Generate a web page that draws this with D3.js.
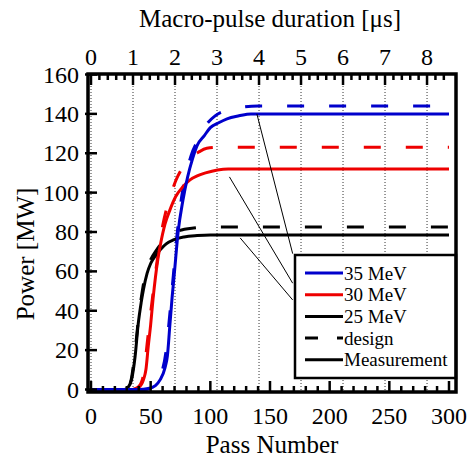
<!DOCTYPE html>
<html><head><meta charset="utf-8">
<script src="https://cdn.jsdelivr.net/npm/d3@7"></script>
<style>body{margin:0;background:#fff}svg{display:block}</style>
</head><body><svg id="c" width="474" height="460" font-family="'Liberation Serif', 'DejaVu Serif', serif"></svg>
<script>
// ---- data ----
const meas35 = [[0,0],[40,0],[48,0.5],[54,2],[58,5],[62,11],[64,17],[66,32],[68,47],[70,60],[73,80],[77,96],[81,108],[85,117],[89,124],[95,129],[100,133],[107,135.5],[114,137.5],[124,139],[134,140],[300,140]];
const design35 = [[0,0],[45,0],[54,2],[59,8],[63,20],[66,38],[69,58],[72,78],[76,98],[80,110],[84,119],[89,126],[96,134],[104,139],[115,142],[127,143.5],[140,144],[300,144]];
const meas30 = [[0,0],[35,0],[40,1],[44,5],[46,10],[48,22],[50,33],[52,46],[54,57],[56,66],[58,73],[62,84],[66,91],[71,98],[77,103],[83,106.5],[89,108.5],[96,110],[106,111.5],[115,112],[300,112]];
const design30 = [[0,0],[34,0],[39,1],[43,5],[45,12],[47,23],[50,39],[52,49],[54,59],[57,72],[60,83],[63,91],[67,99],[71,106],[76,112],[83,117.5],[90,120.5],[97,122.5],[107,123],[300,123]];
const meas25 = [[0,0],[28,0],[31,1],[34,5],[37,17],[39.5,33],[42,44],[44,51],[47,59],[50,64],[54,68],[58,71],[63,74],[69,76],[78,77.5],[89,78.2],[100,78.5],[300,78.5]];
const design25 = [[0,0],[28,0],[31,1],[34,6],[37,20],[40,37],[43,50],[46,60],[50,66],[55,71],[60,75],[66,78.5],[73,80.5],[86,82],[100,82.5],[300,82.5]];
const yTicks = [0,20,40,60,80,100,120,140,160];
const xTicks = [0,50,100,150,200,250,300];
const usTicks = [0,1,2,3,4,5,6,7,8];
const usPerPass = 0.02841;
const legendLabels = ["35 MeV","30 MeV","25 MeV","design","Measurement"];
const legendColors = ["#0000cc","#ee0000","#000000","#000000","#000000"];
const legendDashed = [false,false,false,true,false];
// annotation leader lines in data coords [from, to]
const leaders = [[[139,140],[169,69]],[[116,108],[169,54]],[[125,77],[169,45.5]]];

// ---- layout ----
const svg = d3.select("#c");
const FONT = "'Liberation Serif', 'DejaVu Serif', serif";
const L=88, R=456, T=74, B=392;
const x = d3.scaleLinear().domain([0,300]).range([91,449]);
const xu = d3.scaleLinear().domain([0,300*usPerPass]).range([91,449]);
const y = d3.scaleLinear().domain([0,160]).range([389.5,74.5]);

// gridlines (dotted, at µs ticks)
svg.append("g").selectAll("line").data(usTicks).join("line")
  .attr("x1",d=>xu(d)).attr("x2",d=>xu(d)).attr("y1",T).attr("y2",B)
  .attr("stroke","#333").attr("stroke-width",1).attr("stroke-dasharray","1,2");

svg.append("clipPath").attr("id","clip").append("rect").attr("x",L).attr("y",T-4).attr("width",R-L).attr("height",B-T+4);
const g = svg.append("g").attr("clip-path","url(#clip)");
const line = d3.line().x(d=>x(d[0])).y(d=>y(d[1])).curve(d3.curveMonotoneX);
const series = [
  {d:design25,c:"#000000",dash:true},{d:design30,c:"#ee0000",dash:true},{d:design35,c:"#0000cc",dash:true},
  {d:meas25,c:"#000000",dash:false},{d:meas30,c:"#ee0000",dash:false},{d:meas35,c:"#0000cc",dash:false}
];
g.selectAll("path.s").data(series).join("path").attr("class","s")
  .attr("d",s=>line(s.d)).attr("fill","none").attr("stroke",s=>s.c)
  .attr("stroke-width",3).attr("stroke-dasharray",s=>s.dash?"17,25":null);

// leader lines
svg.append("g").selectAll("line").data(leaders).join("line")
  .attr("x1",d=>x(d[0][0])).attr("y1",d=>y(d[0][1])).attr("x2",d=>x(d[1][0])).attr("y2",d=>y(d[1][1]))
  .attr("stroke","#000").attr("stroke-width",1);

// legend
const lg = svg.append("g");
lg.append("rect").attr("x",295).attr("y",255).attr("width",R-295).attr("height",123)
  .attr("fill","#fff").attr("stroke","#000").attr("stroke-width",2.5);
legendLabels.forEach((t,i)=>{
  const yy = 273 + i*21.7;
  lg.append("line").attr("x1",305).attr("x2",343).attr("y1",yy).attr("y2",yy)
    .attr("stroke",legendColors[i]).attr("stroke-width",3).attr("stroke-dasharray",legendDashed[i]?"13,19":null);
  lg.append("text").attr("x",344).attr("y",yy+6.5).attr("font-size",19).attr("font-family",FONT).text(t);
});

// frame
svg.append("rect").attr("x",L).attr("y",T).attr("width",R-L).attr("height",B-T)
  .attr("fill","none").attr("stroke","#000").attr("stroke-width",3.5);

// bottom ticks
const minorX = d3.range(0,301,10).filter(v=>v%50!==0);
svg.append("g").selectAll("line").data(minorX).join("line")
  .attr("x1",d=>x(d)).attr("x2",d=>x(d)).attr("y1",B).attr("y2",B-6).attr("stroke","#000").attr("stroke-width",2.5);
svg.append("g").selectAll("line").data(xTicks).join("line")
  .attr("x1",d=>x(d)).attr("x2",d=>x(d)).attr("y1",B).attr("y2",B-11).attr("stroke","#000").attr("stroke-width",2.5);
svg.append("g").selectAll("text").data(xTicks).join("text")
  .attr("x",d=>x(d)).attr("y",424).attr("text-anchor","middle").attr("font-size",24).attr("font-family",FONT).text(d=>d);

// top ticks (µs)
const minorU = d3.range(0,8.5,0.2).filter(v=>Math.abs(v-Math.round(v))>0.01);
svg.append("g").selectAll("line").data(minorU).join("line")
  .attr("x1",d=>xu(d)).attr("x2",d=>xu(d)).attr("y1",T).attr("y2",T+6).attr("stroke","#000").attr("stroke-width",2.5);
svg.append("g").selectAll("line").data(usTicks).join("line")
  .attr("x1",d=>xu(d)).attr("x2",d=>xu(d)).attr("y1",T).attr("y2",T+11).attr("stroke","#000").attr("stroke-width",2.5);
svg.append("g").selectAll("text").data(usTicks).join("text")
  .attr("x",d=>xu(d)).attr("y",65).attr("text-anchor","middle").attr("font-size",24).attr("font-family",FONT).text(d=>d);

// left ticks
svg.append("g").selectAll("line").data(yTicks).join("line")
  .attr("x1",L-3).attr("x2",L+9).attr("y1",d=>y(d)).attr("y2",d=>y(d)).attr("stroke","#000").attr("stroke-width",2.5);
svg.append("g").selectAll("text").data(yTicks).join("text")
  .attr("x",79).attr("y",d=>y(d)+8).attr("text-anchor","end").attr("font-size",24).attr("font-family",FONT).text(d=>d);

// titles
svg.append("text").attr("x",(L+R)/2).attr("y",453).attr("text-anchor","middle").attr("font-size",25).attr("font-family",FONT).text("Pass Number");
svg.append("text").attr("x",270).attr("y",27).attr("text-anchor","middle").attr("font-size",25).attr("font-family",FONT).text("Macro-pulse duration [μs]");
svg.append("text").attr("transform","translate(34,254) rotate(-90)").attr("text-anchor","middle").attr("font-size",25).attr("font-family",FONT).text("Power [MW]");
</script></body></html>
